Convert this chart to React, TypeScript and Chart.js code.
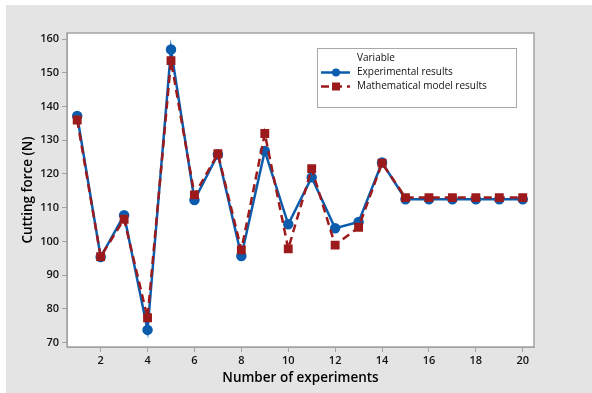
import React, { useEffect, useRef } from "react";
import { Chart, registerables } from "chart.js";

Chart.register(...registerables);

const experiments = [1, 2, 3, 4, 5, 6, 7, 8, 9, 10, 11, 12, 13, 14, 15, 16, 17, 18, 19, 20];
const experimentalResults = [137.2, 95.4, 107.8, 73.8, 156.9, 112.3, 125.8, 95.7, 126.8, 105.1, 119.0, 103.9, 105.8, 123.4, 112.5, 112.5, 112.5, 112.5, 112.5, 112.5];
const modelResults = [136.0, 95.5, 106.6, 77.4, 153.6, 113.8, 126.0, 97.5, 132.0, 97.8, 121.6, 98.9, 104.2, 123.2, 113.0, 113.0, 113.0, 113.0, 113.0, 113.0];
const xTicks = [2, 4, 6, 8, 10, 12, 14, 16, 18, 20];
const yTicks = [70, 80, 90, 100, 110, 120, 130, 140, 150, 160];
const seriesNames = ["Experimental results", "Mathematical model results"];
const legendTitle = "Variable";

const BLUE = "#0b5cad";
const RED = "#9c1a1c";
const FONT = "'Open Sans', 'Noto Sans', 'DejaVu Sans', sans-serif";
const FRAME = "#a3a3a3";

const backgroundPlugin = {
  id: "bgFrame",
  beforeDraw(chart: any) {
    const { ctx, width, height, chartArea } = chart;
    ctx.save();
    ctx.fillStyle = "#ffffff";
    ctx.fillRect(0, 0, width, height);
    ctx.fillStyle = "#e4e4e4";
    ctx.fillRect(6, 5, width - 6, height - 5);
    ctx.fillStyle = "#ffffff";
    ctx.fillRect(chartArea.left, chartArea.top, chartArea.right - chartArea.left, chartArea.bottom - chartArea.top);
    ctx.restore();
  },
  afterDraw(chart: any) {
    const { ctx, chartArea } = chart;
    ctx.save();
    ctx.strokeStyle = FRAME;
    ctx.lineWidth = 1.5;
    ctx.strokeRect(chartArea.left, chartArea.top, chartArea.right - chartArea.left, chartArea.bottom - chartArea.top);
    // legend box
    const bx = 317, by = 48, bw = 199, bh = 59;
    ctx.fillStyle = "#ffffff";
    ctx.fillRect(bx, by, bw, bh);
    ctx.strokeStyle = "#a8a8a8";
    ctx.lineWidth = 1;
    ctx.strokeRect(bx + 0.5, by + 0.5, bw, bh);
    ctx.fillStyle = "#111111";
    ctx.font = `500 10px ${FONT}`;
    ctx.textBaseline = "middle";
    ctx.textAlign = "left";
    ctx.fillText(legendTitle, 357, 58.5);
    const rows = [72.5, 86.5];
    chart.data.datasets.forEach((ds: any, i: number) => {
      const y = rows[i];
      ctx.fillStyle = "#111111";
      ctx.fillText(seriesNames[i], 357, y);
      ctx.strokeStyle = ds.borderColor;
      ctx.lineWidth = 2.5;
      ctx.setLineDash(ds.borderDash || []);
      ctx.beginPath();
      ctx.moveTo(321, y);
      ctx.lineTo(350, y);
      ctx.stroke();
      ctx.setLineDash([]);
      ctx.fillStyle = ds.pointBackgroundColor;
      if (ds.pointStyle === "rect") {
        ctx.fillRect(332, y - 4, 8, 8);
      } else {
        ctx.beginPath();
        ctx.arc(336, y, 4, 0, Math.PI * 2);
        ctx.fill();
      }
    });
    ctx.restore();
  },
};

export default function App() {
  const ref = useRef<HTMLCanvasElement | null>(null);
  useEffect(() => {
    if (!ref.current) return;
    const chart = new Chart(ref.current, {
      type: "line",
      data: {
        datasets: [
          {
            label: seriesNames[0],
            data: experiments.map((x, i) => ({ x, y: experimentalResults[i] })),
            borderColor: BLUE,
            backgroundColor: BLUE,
            pointBackgroundColor: BLUE,
            pointBorderColor: BLUE,
            borderWidth: 2.5,
            pointStyle: "circle",
            pointRadius: 4,
            order: 1,
          },
          {
            label: seriesNames[1],
            data: experiments.map((x, i) => ({ x, y: modelResults[i] })),
            borderColor: RED,
            backgroundColor: RED,
            pointBackgroundColor: RED,
            pointBorderColor: RED,
            borderWidth: 2.5,
            borderDash: [8, 5],
            pointStyle: "rect",
            pointRadius: 4.5,
            order: 0,
          },
        ],
      },
      options: {
        animation: false,
        responsive: false,
        layout: { padding: { top: 33, right: 58, left: 0, bottom: 0 } },
        plugins: { legend: { display: false }, tooltip: { enabled: false } },
        scales: {
          x: {
            type: "linear",
            min: 0.565,
            max: 20.48,
            afterFit: (s: any) => { s.height = 46; },
            afterBuildTicks: (s: any) => { s.ticks = xTicks.map((v) => ({ value: v })); },
            grid: { display: true, drawOnChartArea: false, drawTicks: true, tickLength: 5, color: FRAME },
            border: { display: true, color: FRAME },
            ticks: { color: "#111", font: { family: FONT, size: 11, weight: "600" }, padding: 2, maxRotation: 0 },
            title: { display: true, text: "Number of experiments", color: "#000", font: { family: FONT, size: 13.5, weight: "600" }, padding: { top: 0, bottom: 7 } },
          },
          y: {
            type: "linear",
            min: 68.73,
            max: 161.78,
            afterFit: (s: any) => { s.width = 67; },
            afterBuildTicks: (s: any) => { s.ticks = yTicks.map((v) => ({ value: v })); },
            grid: { display: true, drawOnChartArea: false, drawTicks: true, tickLength: 5, color: FRAME },
            border: { display: true, color: FRAME },
            ticks: { color: "#111", font: { family: FONT, size: 11, weight: "600" }, padding: 3 },
            title: { display: true, text: "Cutting force (N)", color: "#000", font: { family: FONT, size: 13.5, weight: "600" }, padding: { top: 20, bottom: 0 } },
          },
        },
      },
      plugins: [backgroundPlugin],
    } as any);
    return () => chart.destroy();
  }, []);
  return (
    <div style={{ position: "absolute", left: 0, top: 0, width: 592, height: 393 }}>
      <canvas ref={ref} width={592} height={393} style={{ display: "block" }} />
    </div>
  );
}
